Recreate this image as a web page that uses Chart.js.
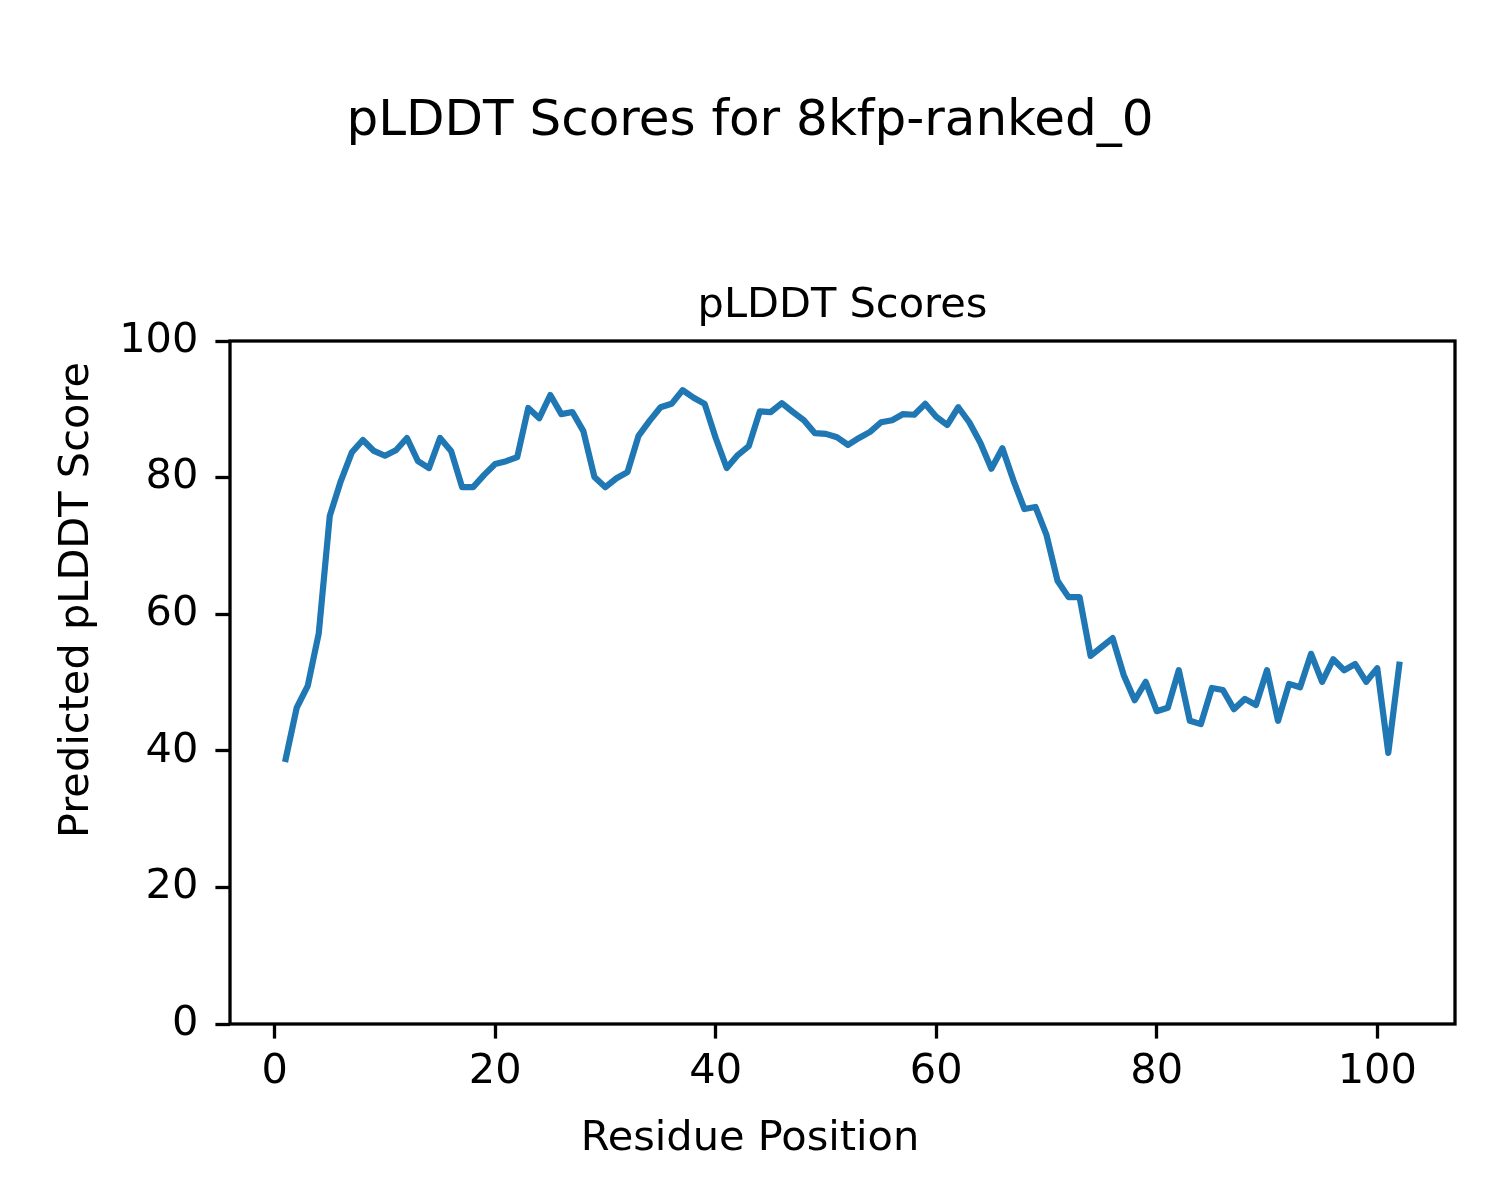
<!DOCTYPE html>
<html>
<head>
<meta charset="utf-8">
<script src="https://cdn.jsdelivr.net/npm/chart.js@4/dist/chart.umd.min.js"></script>
<style>
  html, body { margin: 0; padding: 0; background: #ffffff; }
  #wrap { width: 1500px; height: 1200px; }
</style>
</head>
<body>
<div id="wrap"><canvas id="c" width="1500" height="1200"></canvas></div>
<script>
const residues = [];
for (let i = 1; i <= 102; i++) residues.push(i);
const plddt = [
  38.8, 46.3, 49.5, 57.2, 74.4, 79.5, 83.7, 85.5, 83.9, 83.2,
  84.0, 85.8, 82.4, 81.4, 85.8, 83.9, 78.6, 78.6, 80.4, 82.0,
  82.4, 83.0, 90.2, 88.7, 92.1, 89.3, 89.6, 86.8, 80.1, 78.6,
  79.9, 80.8, 86.1, 88.3, 90.3, 90.8, 92.8, 91.7, 90.8, 85.8,
  81.4, 83.3, 84.6, 89.7, 89.6, 90.9, 89.6, 88.4, 86.5, 86.4,
  85.9, 84.8, 85.8, 86.7, 88.1, 88.4, 89.3, 89.2, 90.8, 88.9,
  87.7, 90.3, 88.1, 85.1, 81.3, 84.3, 79.6, 75.4, 75.7, 71.6,
  64.9, 62.5, 62.5, 53.9, 55.2, 56.5, 51.1, 47.4, 50.1, 45.8,
  46.3, 51.8, 44.4, 43.9, 49.2, 48.9, 46.1, 47.6, 46.7, 51.8,
  44.4, 49.8, 49.3, 54.2, 50.1, 53.4, 51.8, 52.7, 50.1, 52.1,
  39.7, 52.6
];
const xTicks = [0, 20, 40, 60, 80, 100];
const yTicks = [0, 20, 40, 60, 80, 100];
const suptitle = 'pLDDT Scores for 8kfp-ranked_0';
const axTitle = 'pLDDT Scores';
const xLabel = 'Residue Position';
const yLabel = 'Predicted pLDDT Score';

const FONT = "'DejaVu Sans', 'Liberation Sans', sans-serif";
const FS = 41.5;
const TICK_LEN = 14.6;
const LINE_W = 3.3;

// axes frame (all four spines)
const frame = {
  id: 'frame',
  afterDatasetsDraw(chart) {
    const a = chart.chartArea;
    const ctx = chart.ctx;
    ctx.save();
    ctx.strokeStyle = '#000';
    ctx.lineWidth = LINE_W;
    ctx.strokeRect(a.left, a.top, a.right - a.left, a.bottom - a.top);
    ctx.restore();
  }
};

// figure-level axis labels (centred on the figure, like supxlabel/supylabel)
const figLabels = {
  id: 'figLabels',
  afterDraw(chart) {
    const ctx = chart.ctx;
    const w = chart.width, h = chart.height;
    ctx.save();
    ctx.fillStyle = '#000';
    ctx.font = FS + 'px ' + FONT;
    ctx.textAlign = 'center';
    ctx.textBaseline = 'middle';
    ctx.fillText(xLabel, w / 2, 1139);
    ctx.translate(77, h / 2);
    ctx.rotate(-Math.PI / 2);
    ctx.fillText(yLabel, 0, 0);
    ctx.restore();
  }
};

new Chart(document.getElementById('c'), {
  type: 'line',
  data: {
    datasets: [{
      data: residues.map((r, i) => ({ x: r, y: plddt[i] })),
      borderColor: '#1f77b4',
      borderWidth: 6.2,
      pointRadius: 0,
      tension: 0,
      fill: false,
      borderJoinStyle: 'round',
      borderCapStyle: 'square'
    }]
  },
  plugins: [frame, figLabels],
  options: {
    responsive: false,
    animation: false,
    devicePixelRatio: 1,
    layout: { padding: 0 },
    plugins: {
      legend: { display: false },
      tooltip: { enabled: false },
      title: {
        display: true,
        text: suptitle,
        color: '#000',
        font: { family: FONT, size: 50, weight: 'normal', lineHeight: 1.2 },
        padding: { top: 92, bottom: 0 }
      },
      subtitle: {
        display: true,
        fullSize: false,
        text: axTitle,
        color: '#000',
        font: { family: FONT, size: FS, weight: 'normal', lineHeight: 1.2 },
        padding: { top: 129, bottom: 10.2 }
      }
    },
    scales: {
      x: {
        type: 'linear',
        min: -4.05,
        max: 107.05,
        afterBuildTicks(scale) { scale.ticks = xTicks.map(v => ({ value: v })); },
        afterFit(scale) { scale.height = 176; },
        ticks: {
          color: '#000',
          font: { family: FONT, size: FS },
          padding: 9,
          maxRotation: 0,
          autoSkip: false
        },
        grid: {
          display: true,
          drawOnChartArea: false,
          drawTicks: true,
          tickLength: TICK_LEN,
          tickWidth: LINE_W,
          tickColor: '#000'
        },
        border: { display: false },
        title: { display: false }
      },
      y: {
        type: 'linear',
        min: 0,
        max: 100,
        afterBuildTicks(scale) { scale.ticks = yTicks.map(v => ({ value: v })); },
        afterFit(scale) { scale.width = 230; },
        ticks: {
          color: '#000',
          font: { family: FONT, size: FS },
          padding: 17
        },
        grid: {
          display: true,
          drawOnChartArea: false,
          drawTicks: true,
          tickLength: TICK_LEN,
          tickWidth: LINE_W,
          tickColor: '#000'
        },
        border: { display: false },
        title: { display: false }
      },
      yRight: {
        type: 'linear',
        position: 'right',
        min: 0,
        max: 100,
        afterFit(scale) { scale.width = 45; },
        ticks: { display: false },
        grid: { display: false, drawTicks: false },
        border: { display: false },
        title: { display: false }
      }
    }
  }
});
</script>
</body>
</html>
